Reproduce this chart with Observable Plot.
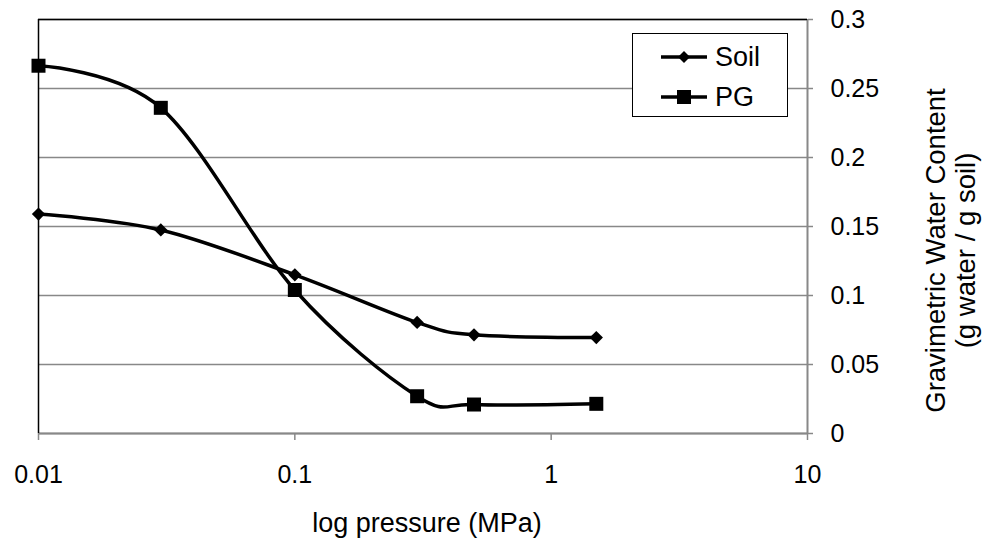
<!DOCTYPE html>
<html><head><meta charset="utf-8">
<script src="https://cdn.jsdelivr.net/npm/d3@7"></script>
<script src="https://cdn.jsdelivr.net/npm/@observablehq/plot@0.6"></script>
<style>
body{margin:0;background:#fff;font-family:"Liberation Sans",Arial,sans-serif;}
#wrap{position:relative;width:989px;height:548px;overflow:hidden;}
#legend{position:absolute;left:632px;top:33px;width:154px;height:82px;border:1.5px solid #000;background:#fff;}
.item{position:absolute;left:0;height:30px;display:flex;align-items:center;font-size:27px;color:#000;}
.item svg{display:block;margin-left:26px;margin-right:6px;}
</style></head>
<body><div id="wrap"></div>
<script>
const pressure = [0.01, 0.03, 0.1, 0.3, 0.5, 1.5];
const soil = [0.159, 0.1475, 0.115, 0.0805, 0.0715, 0.0695];
const pg = [0.2665, 0.236, 0.104, 0.027, 0.021, 0.0215];
const seriesNames = ["Soil", "PG"];
const xTicks = [0.01, 0.1, 1, 10];
const yTicks = [0, 0.05, 0.1, 0.15, 0.2, 0.25, 0.3];
const xTitle = "log pressure (MPa)";
const yTitle = "Gravimetric Water Content\n(g water / g soil)";

const soilData = pressure.map((p, i) => ({p, v: soil[i]}));
const pgData = pressure.map((p, i) => ({p, v: pg[i]}));

const chart = Plot.plot({
  width: 989, height: 548,
  marginLeft: 38, marginRight: 182, marginTop: 19, marginBottom: 115,
  style: {fontFamily: '"Liberation Sans", Arial, sans-serif', color: "#000", background: "#fff"},
  x: {type: "log", domain: [0.01, 10]},
  y: {domain: [0, 0.3]},
  marks: [
    Plot.gridY(yTicks, {stroke: "#888", strokeOpacity: 1, strokeWidth: 1.5}),
    Plot.ruleY([0], {stroke: "#888", strokeWidth: 2}),
    Plot.ruleX([10], {stroke: "#888", strokeWidth: 2}),
    Plot.ruleX([0.01], {stroke: "#000", strokeWidth: 1.5}),
    Plot.ruleY([0.3], {stroke: "#000", strokeWidth: 1.5}),
    Plot.axisX({ticks: xTicks, tickSize: 7, tickPadding: 25, tickFormat: d => String(d), fontSize: 25, stroke: "#888", strokeWidth: 1.5, fill: "#000", label: null}),
    Plot.axisY({anchor: "right", ticks: yTicks, tickSize: 5, tickPadding: 18, tickFormat: d => String(+d.toFixed(2)), fontSize: 25, stroke: "#888", strokeWidth: 1.5, fill: "#000", label: null}),
    Plot.line(soilData, {x: "p", y: "v", curve: "cardinal", stroke: "#000", strokeWidth: 3.5}),
    Plot.line(pgData, {x: "p", y: "v", curve: "cardinal", stroke: "#000", strokeWidth: 3.5}),
    Plot.dot(soilData, {x: "p", y: "v", symbol: "diamond2", r: 6, fill: "#000", stroke: "none"}),
    Plot.dot(pgData, {x: "p", y: "v", symbol: "square", r: 7.9, fill: "#000", stroke: "none"}),
    Plot.text([xTitle], {frameAnchor: "bottom", dx: 4, dy: 98, fontSize: 27, fill: "#000"}),
    Plot.text([yTitle], {frameAnchor: "right", textAnchor: "middle", lineAnchor: "middle", rotate: -90, dx: 143, dy: 24, fontSize: 27.5, lineHeight: 1.1, fill: "#000"})
  ]
});
const wrap = document.getElementById("wrap");
wrap.appendChild(chart);

const legend = document.createElement("div");
legend.id = "legend";
const syms = {Soil: '<path d="M12,4 L18,10 L12,16 L6,10Z" fill="#000"/>', PG: '<rect x="5" y="3" width="14" height="14" fill="#000"/>'};
seriesNames.forEach((name, i) => {
  const it = document.createElement("div");
  it.className = "item";
  it.style.top = (8 + i * 40) + "px";
  it.innerHTML = `<svg width="50" height="20" viewBox="0 0 50 20"><line x1="2" y1="10" x2="48" y2="10" stroke="#000" stroke-width="3.5"/><g transform="translate(13,0)">${syms[name]}</g></svg><span>${name}</span>`;
  legend.appendChild(it);
});
wrap.appendChild(legend);
</script>
</body></html>
